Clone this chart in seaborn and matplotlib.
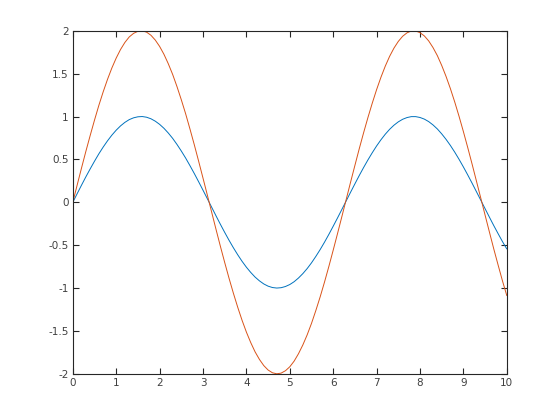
import matplotlib
matplotlib.use("Agg")
import matplotlib.pyplot as plt
import seaborn as sns
import pandas as pd

x = [0.0, 0.1, 0.2, 0.3, 0.4, 0.5, 0.6, 0.7, 0.8, 0.9,
     1.0, 1.1, 1.2, 1.3, 1.4, 1.5, 1.6, 1.7, 1.8, 1.9,
     2.0, 2.1, 2.2, 2.3, 2.4, 2.5, 2.6, 2.7, 2.8, 2.9,
     3.0, 3.1, 3.2, 3.3, 3.4, 3.5, 3.6, 3.7, 3.8, 3.9,
     4.0, 4.1, 4.2, 4.3, 4.4, 4.5, 4.6, 4.7, 4.8, 4.9,
     5.0, 5.1, 5.2, 5.3, 5.4, 5.5, 5.6, 5.7, 5.8, 5.9,
     6.0, 6.1, 6.2, 6.3, 6.4, 6.5, 6.6, 6.7, 6.8, 6.9,
     7.0, 7.1, 7.2, 7.3, 7.4, 7.5, 7.6, 7.7, 7.8, 7.9,
     8.0, 8.1, 8.2, 8.3, 8.4, 8.5, 8.6, 8.7, 8.8, 8.9,
     9.0, 9.1, 9.2, 9.3, 9.4, 9.5, 9.6, 9.7, 9.8, 9.9,
     10.0]
y_blue = [0.000, 0.100, 0.199, 0.296, 0.389, 0.479, 0.565, 0.644, 0.717, 0.783,
          0.841, 0.891, 0.932, 0.964, 0.985, 0.997, 1.000, 0.992, 0.974, 0.946,
          0.909, 0.863, 0.808, 0.746, 0.675, 0.598, 0.516, 0.427, 0.335, 0.239,
          0.141, 0.042, -0.058, -0.158, -0.256, -0.351, -0.443, -0.530, -0.612, -0.688,
          -0.757, -0.818, -0.872, -0.916, -0.952, -0.978, -0.994, -1.000, -0.996, -0.982,
          -0.959, -0.926, -0.883, -0.832, -0.773, -0.706, -0.631, -0.551, -0.465, -0.374,
          -0.279, -0.182, -0.083, 0.017, 0.117, 0.215, 0.312, 0.405, 0.494, 0.578,
          0.657, 0.729, 0.794, 0.851, 0.899, 0.938, 0.968, 0.988, 0.999, 0.999,
          0.989, 0.970, 0.941, 0.902, 0.855, 0.798, 0.734, 0.663, 0.585, 0.501,
          0.412, 0.319, 0.223, 0.124, 0.025, -0.075, -0.174, -0.272, -0.366, -0.458,
          -0.544]
y_orange = [0.000, 0.200, 0.398, 0.592, 0.778, 0.958, 1.130, 1.288, 1.434, 1.566,
            1.682, 1.782, 1.864, 1.928, 1.970, 1.994, 2.000, 1.984, 1.948, 1.892,
            1.818, 1.726, 1.616, 1.492, 1.350, 1.196, 1.032, 0.854, 0.670, 0.478,
            0.282, 0.084, -0.116, -0.316, -0.512, -0.702, -0.886, -1.060, -1.224, -1.376,
            -1.514, -1.636, -1.744, -1.832, -1.904, -1.956, -1.988, -2.000, -1.992, -1.964,
            -1.918, -1.852, -1.766, -1.664, -1.546, -1.412, -1.262, -1.102, -0.930, -0.748,
            -0.558, -0.364, -0.166, 0.034, 0.234, 0.430, 0.624, 0.810, 0.988, 1.156,
            1.314, 1.458, 1.588, 1.702, 1.798, 1.876, 1.936, 1.976, 1.998, 1.998,
            1.978, 1.940, 1.882, 1.804, 1.710, 1.596, 1.468, 1.326, 1.170, 1.002,
            0.824, 0.638, 0.446, 0.248, 0.050, -0.150, -0.348, -0.544, -0.732, -0.916,
            -1.088]
x_ticks = [0, 1, 2, 3, 4, 5, 6, 7, 8, 9, 10]
y_ticks = [-2, -1.5, -1, -0.5, 0, 0.5, 1, 1.5, 2]
y_tick_labels = ["-2", "-1.5", "-1", "-0.5", "0", "0.5", "1", "1.5", "2"]

sns.set_style("white")
plt.rcParams['font.family'] = ['DejaVu Sans']

df = pd.DataFrame({"x": x + x,
                   "y": y_blue + y_orange,
                   "s": ["a"] * len(x) + ["b"] * len(x)})

fig = plt.figure(figsize=(5.6, 4.2), dpi=100)
ax = fig.add_axes([0.13, 0.11, 0.775, 0.8167])
sns.lineplot(data=df, x="x", y="y", hue="s", palette={"a": "#0072BD", "b": "#D95319"},
             linewidth=0.7, legend=False, ax=ax, sort=False)

ax.set_xlim(0, 10)
ax.set_ylim(-2, 2)
ax.set_xticks(x_ticks)
ax.set_xticklabels([str(t) for t in x_ticks])
ax.set_yticks(y_ticks)
ax.set_yticklabels(y_tick_labels)
ax.set_xlabel("")
ax.set_ylabel("")
for sp in ax.spines.values():
    sp.set_visible(True)
    sp.set_color("#262626")
    sp.set_linewidth(0.8)
ax.tick_params(direction="in", length=4, width=0.8, colors="#262626",
               labelsize=7.5, top=True, right=True, bottom=True, left=True,
               labelcolor="#404040", pad=3)
ax.grid(False)

fig.savefig("out.png", dpi=100)
